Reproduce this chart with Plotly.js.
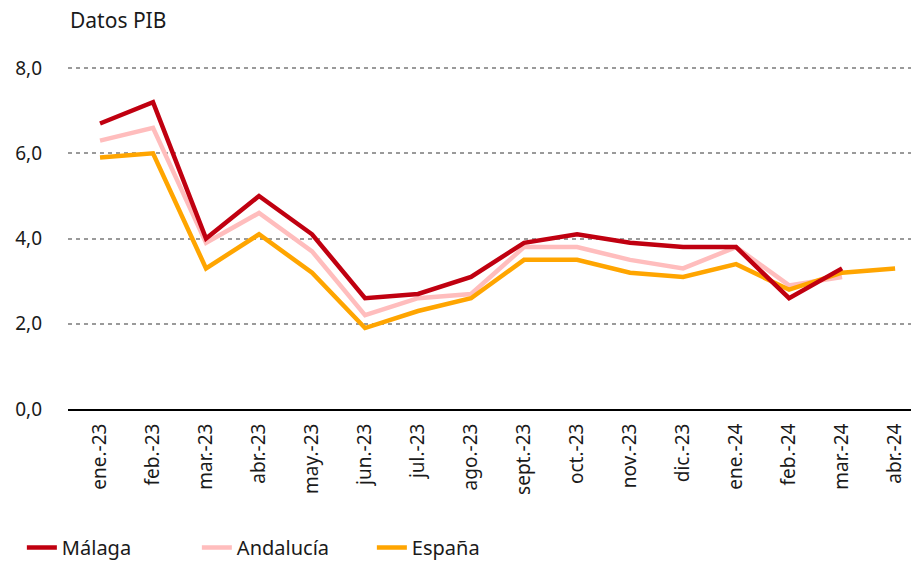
<!DOCTYPE html>
<html><head><meta charset="utf-8">
<script src="https://cdn.plot.ly/plotly-3.0.1.min.js"></script>
<style>body{margin:0;padding:0;background:#fff}#chart{width:911px;height:567px}</style>
</head><body><div id="chart"></div>
<script>
const categories = ["ene.-23","feb.-23","mar.-23","abr.-23","may.-23","jun.-23","jul.-23","ago.-23","sept.-23","oct.-23","nov.-23","dic.-23","ene.-24","feb.-24","mar.-24","abr.-24"];
const malaga    = [6.7, 7.2, 4.0, 5.0, 4.1, 2.6, 2.7, 3.1, 3.9, 4.1, 3.9, 3.8, 3.8, 2.6, 3.3, null];
const andalucia = [6.3, 6.6, 3.9, 4.6, 3.7, 2.2, 2.6, 2.7, 3.8, 3.8, 3.5, 3.3, 3.8, 2.9, 3.1, null];
const espana    = [5.9, 6.0, 3.3, 4.1, 3.2, 1.9, 2.3, 2.6, 3.5, 3.5, 3.2, 3.1, 3.4, 2.8, 3.2, 3.3];
const yTicks = [0, 2, 4, 6, 8];

const FONT = "'Noto Sans', sans-serif";
const traces = [
  {x: categories, y: andalucia, name: "Andalucía", type: "scatter", mode: "lines",
   line: {color: "#FFBDBD", width: 4.5}, legendrank: 2},
  {x: categories, y: espana, name: "España", type: "scatter", mode: "lines",
   line: {color: "#FFA500", width: 4.5}, legendrank: 3},
  {x: categories, y: malaga, name: "Málaga", type: "scatter", mode: "lines",
   line: {color: "#C00010", width: 4.5}, legendrank: 1}
];
const layout = {
  width: 911, height: 567,
  margin: {l: 68, r: 0, t: 66, b: 158},
  paper_bgcolor: "#fff", plot_bgcolor: "#fff",
  font: {family: FONT, color: "#1a1a1a", size: 18},
  separators: ",.",
  showlegend: true,
  legend: {orientation: "h", x: 0.024, xref: "container", y: -0.018, yref: "container", yanchor: "bottom",
           xanchor: "left", font: {size: 20, family: FONT, color: "#1a1a1a"},
           entrywidth: 130, entrywidthmode: "pixels", traceorder: "normal"},
  xaxis: {type: "category", range: [-0.604, 15.3], tickangle: -90, showgrid: false,
          showline: true, linecolor: "#000", linewidth: 2, ticks: "", ticklabelstandoff: 5,
          tickfont: {size: 19, family: FONT, color: "#1a1a1a"}, fixedrange: true},
  yaxis: {range: [0, 8.05], tickvals: yTicks, tickformat: ".1f", showgrid: true,
          gridcolor: "#9a9a9a", gridwidth: 2, griddash: "4px,4px", zeroline: false,
          showline: false, ticks: "", ticklabelstandoff: 25,
          tickfont: {size: 19, family: FONT, color: "#1a1a1a"}, fixedrange: true},
  annotations: [{text: "Datos PIB", xref: "paper", yref: "paper", x: 0.0, y: 1.135,
                 xanchor: "left", yanchor: "middle", showarrow: false,
                 font: {size: 21, family: FONT, color: "#1a1a1a"}}]
};
Plotly.newPlot("chart", traces, layout, {displayModeBar: false, staticPlot: true});
</script></body></html>
